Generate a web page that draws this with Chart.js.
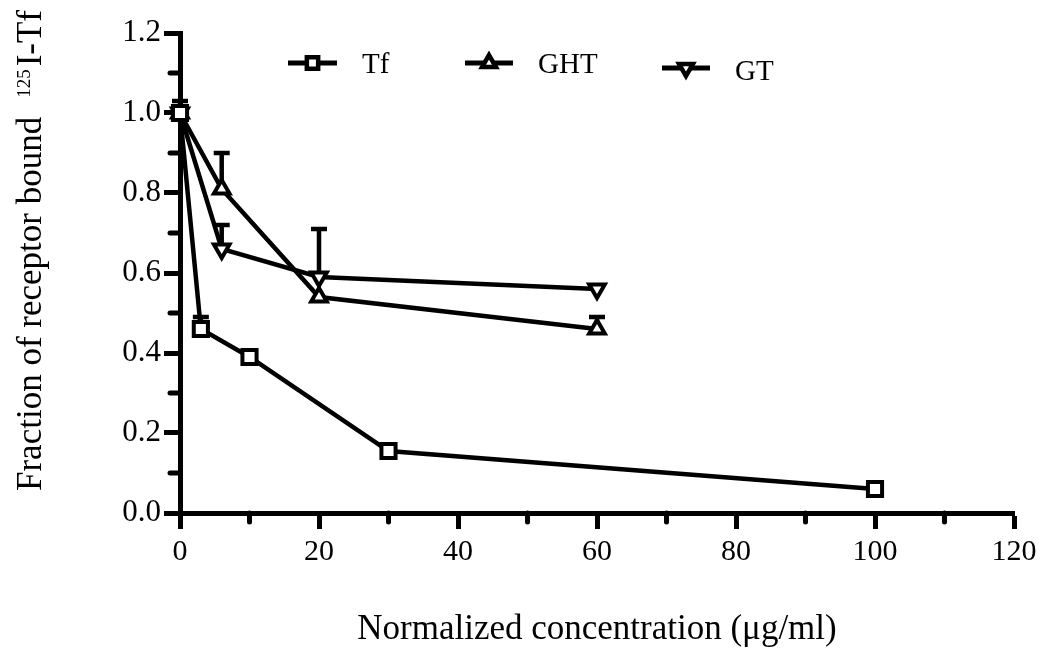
<!DOCTYPE html>
<html>
<head>
<meta charset="utf-8">
<script src="https://cdn.jsdelivr.net/npm/chart.js@4/dist/chart.umd.min.js"></script>
<style>
  html, body { margin: 0; padding: 0; background: #fff; }
  #wrap { width: 1050px; height: 655px; }
</style>
</head>
<body>
<div id="wrap"><canvas id="c" width="1050" height="655"></canvas></div>
<script>
// ---- data ----
const tfX  = [0, 3, 10, 30, 100];
const tfY  = [1.0, 0.46, 0.39, 0.155, 0.06];
const tfErr = [0, 0.03, 0, 0, 0];

const ghtX = [0, 6, 20, 60];
const ghtY = [1.0, 0.81, 0.54, 0.46];
const ghtErr = [0.03, 0.09, 0, 0.03];

const gtX  = [0, 6, 20, 60];
const gtY  = [1.0, 0.66, 0.59, 0.56];
const gtErr = [0, 0.06, 0.12, 0];

const seriesLabels = ['Tf', 'GHT', 'GT'];
const xTicksMajor = [0, 20, 40, 60, 80, 100, 120];
const xTicksMinor = [10, 30, 50, 70, 90, 110];
const yTicksMajor = [0, 0.2, 0.4, 0.6, 0.8, 1.0, 1.2];
const yTicksMinor = [0.1, 0.3, 0.5, 0.7, 0.9, 1.1];
const xTitle = 'Normalized concentration (\u03BCg/ml)';
const yTitleMain = 'Fraction of receptor bound';
const yTitleSup = '125';
const yTitleTail = 'I-Tf';

const SERIF = "'Liberation Serif', 'Times New Roman', serif";

function pts(xs, ys) { return xs.map((x, i) => ({ x: x, y: ys[i] })); }

function ds(label, xs, ys, errs, style, rot, r) {
  return {
    label: label,
    data: pts(xs, ys),
    errs: errs,
    showLine: true,
    borderColor: '#000',
    borderWidth: 4.5,
    pointStyle: style,
    rotation: rot,
    pointRadius: r,
    pointHoverRadius: r,
    pointBorderWidth: 4,
    pointBackgroundColor: '#fff',
    pointBorderColor: '#000',
    clip: false,
    tension: 0
  };
}

function shapePath(ctx, style, rot, r, x, y) {
  ctx.beginPath();
  if (style === 'rect') {
    const s = r * Math.SQRT1_2;
    ctx.rect(x - s, y - s, 2 * s, 2 * s);
  } else {
    let a = rot * Math.PI / 180;
    ctx.moveTo(x + Math.sin(a) * r, y - Math.cos(a) * r);
    a += 2 * Math.PI / 3;
    ctx.lineTo(x + Math.sin(a) * r, y - Math.cos(a) * r);
    a += 2 * Math.PI / 3;
    ctx.lineTo(x + Math.sin(a) * r, y - Math.cos(a) * r);
    ctx.closePath();
  }
}

const errorBars = {
  id: 'errorBars',
  beforeDatasetsDraw(chart) {
    const ctx = chart.ctx, xs = chart.scales.x, ys = chart.scales.y;
    ctx.save();
    ctx.strokeStyle = '#000';
    ctx.lineWidth = 4.5;
    ctx.lineCap = 'butt';
    chart.data.datasets.forEach(d => {
      d.data.forEach((p, i) => {
        const e = d.errs[i];
        if (!e) return;
        const px = xs.getPixelForValue(p.x);
        const y0 = ys.getPixelForValue(p.y);
        const y1 = ys.getPixelForValue(p.y + e);
        ctx.beginPath();
        ctx.moveTo(px, y0); ctx.lineTo(px, y1);
        ctx.moveTo(px - 8, y1); ctx.lineTo(px + 8, y1);
        ctx.stroke();
      });
    });
    ctx.restore();
  }
};

const extras = {
  id: 'extras',
  afterDraw(chart) {
    const ctx = chart.ctx, xs = chart.scales.x, ys = chart.scales.y, a = chart.chartArea;
    ctx.save();
    // minor ticks
    ctx.strokeStyle = '#000';
    ctx.lineWidth = 5;
    ctx.lineCap = 'round';
    xTicksMinor.forEach(v => {
      const px = xs.getPixelForValue(v);
      ctx.beginPath(); ctx.moveTo(px, a.bottom); ctx.lineTo(px, a.bottom + 9); ctx.stroke();
    });
    yTicksMinor.forEach(v => {
      const py = ys.getPixelForValue(v);
      ctx.beginPath(); ctx.moveTo(a.left, py); ctx.lineTo(a.left - 10, py); ctx.stroke();
    });

    // y-axis title with superscript
    ctx.fillStyle = '#000';
    ctx.translate(41, 491);
    ctx.rotate(-Math.PI / 2);
    ctx.textBaseline = 'alphabetic';
    ctx.textAlign = 'left';
    ctx.font = '35px ' + SERIF;
    ctx.fillText(yTitleMain, 0, 0);
    const mw = ctx.measureText(yTitleMain).width;
    const supX = mw + 19;
    ctx.font = '19px ' + SERIF;
    ctx.fillText(yTitleSup, supX, -11);
    const sw = ctx.measureText(yTitleSup).width;
    ctx.font = '35px ' + SERIF;
    ctx.fillText(yTitleTail, supX + sw + 3, 0);
    ctx.restore();

    // legend
    const leg = [
      { x1: 288, x2: 337, y: 63, tx: 362, ty: 65 },
      { x1: 465, x2: 513, y: 63, tx: 538, ty: 65 },
      { x1: 662, x2: 710, y: 68, tx: 735, ty: 72 }
    ];
    ctx.save();
    chart.data.datasets.forEach((d, i) => {
      const L = leg[i];
      ctx.strokeStyle = '#000';
      ctx.lineWidth = 5;
      ctx.lineCap = 'butt';
      ctx.beginPath(); ctx.moveTo(L.x1, L.y); ctx.lineTo(L.x2, L.y); ctx.stroke();
      const cx = (L.x1 + L.x2) / 2;
      shapePath(ctx, d.pointStyle, d.rotation, 8, cx, L.y);
      ctx.fillStyle = '#fff';
      ctx.fill();
      ctx.lineWidth = 4.5;
      ctx.stroke();
      ctx.fillStyle = '#000';
      ctx.font = '29px ' + SERIF;
      ctx.textBaseline = 'middle';
      ctx.textAlign = 'left';
      ctx.fillText(d.label, L.tx, L.ty);
    });
    ctx.restore();
  }
};

new Chart(document.getElementById('c'), {
  type: 'scatter',
  data: {
    datasets: [
      ds(seriesLabels[0], tfX, tfY, tfErr, 'rect', 0, 10),
      ds(seriesLabels[1], ghtX, ghtY, ghtErr, 'triangle', 0, 9),
      ds(seriesLabels[2], gtX, gtY, gtErr, 'triangle', 180, 9)
    ]
  },
  options: {
    responsive: false,
    animation: false,
    events: [],
    layout: { padding: { left: 0, top: 33, right: 36, bottom: 0 } },
    plugins: { legend: { display: false }, tooltip: { enabled: false } },
    scales: {
      x: {
        type: 'linear', min: 0, max: 120,
        afterBuildTicks(s) { s.ticks = xTicksMajor.map(v => ({ value: v })); },
        afterFit(s) { s.height = 142; },
        border: { display: true, color: '#000', width: 5 },
        grid: { display: true, drawOnChartArea: false, drawTicks: true, tickLength: 16, tickWidth: 5, tickColor: '#000', color: '#000' },
        ticks: { color: '#000', font: { family: SERIF, size: 30 }, padding: 5, maxRotation: 0, autoSkip: false },
        title: { display: true, text: xTitle, color: '#000', font: { family: SERIF, size: 35 }, padding: { top: 0, bottom: 4 } }
      },
      y: {
        type: 'linear', min: 0, max: 1.2,
        afterBuildTicks(s) { s.ticks = yTicksMajor.map(v => ({ value: v })); },
        afterFit(s) { s.width = 180; },
        border: { display: true, color: '#000', width: 5 },
        grid: { display: true, drawOnChartArea: false, drawTicks: true, tickLength: 16, tickWidth: 5, tickColor: '#000', color: '#000' },
        ticks: { color: '#000', font: { family: SERIF, size: 31 }, padding: 3, callback: v => Number(v).toFixed(1) }
      }
    }
  },
  plugins: [errorBars, extras]
});
</script>
</body>
</html>
